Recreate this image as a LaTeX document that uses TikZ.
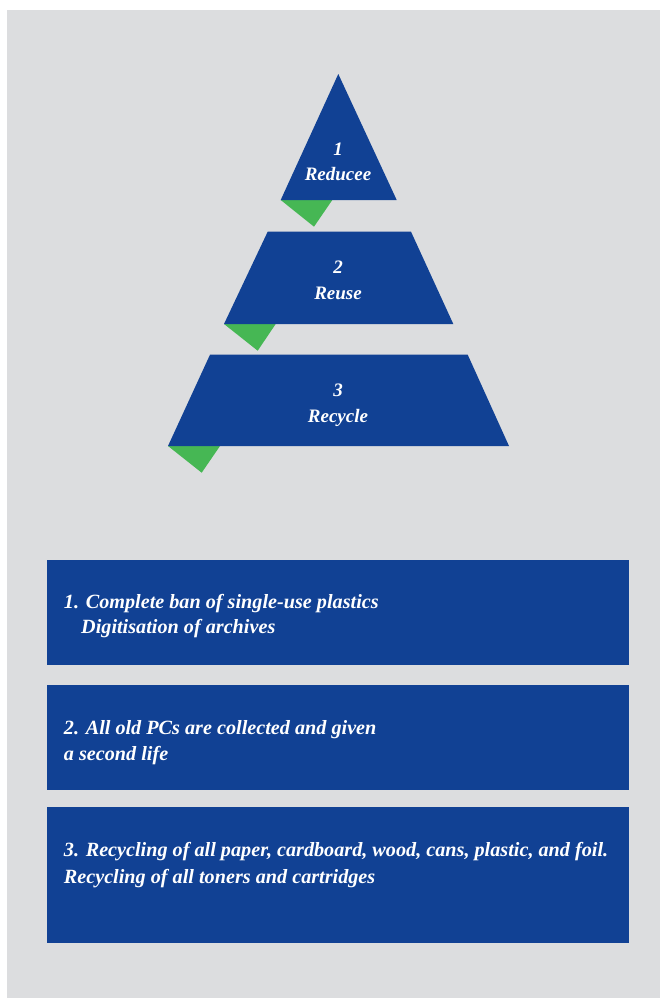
\documentclass[tikz,border=0pt]{standalone}
\usepackage{fontspec}
\setmainfont{Liberation Serif}
\definecolor{bgray}{HTML}{DCDDDF}
\definecolor{pblue}{HTML}{114194}
\definecolor{pgreen}{HTML}{46B754}
\begin{document}
\begin{tikzpicture}[x=1pt,y=-1pt,
  lvl/.style={fill=pblue},
  tab/.style={fill=pgreen},
  lab/.style={text=white,font=\fontsize{19}{22}\selectfont\bfseries\itshape,inner sep=0pt,anchor=base},
  txt/.style={text=white,font=\fontsize{20.2}{24}\selectfont\bfseries\itshape,inner sep=0pt,anchor=base west}]
\useasboundingbox (0,0) rectangle (660,998);
\fill[white] (0,0) rectangle (660,998);
\fill[bgray] (7,10) rectangle (660,998);
% pyramid
\fill[tab] (280.7,200) -- (332.3,200) -- (314,226.7) -- cycle;
\fill[lvl] (338.3,74) -- (396.7,200) -- (280.7,200) -- cycle;
\fill[tab] (224,324) -- (275.7,324) -- (257.7,350.7) -- cycle;
\fill[lvl] (267.7,231.7) -- (411,231.7) -- (453.3,324) -- (224,324) -- cycle;
\fill[tab] (168,446) -- (220,446) -- (201.7,472.7) -- cycle;
\fill[lvl] (210,354.7) -- (467.7,354.7) -- (509,446) -- (168,446) -- cycle;
\node[lab] (n1) at (338,155) {1};
\node[lab] (l1) at (338,180) {Reducee};
\node[lab] (n2) at (338,273.3) {2};
\node[lab] (l2) at (338,299) {Reuse};
\node[lab] (n3) at (338,396.7) {3};
\node[lab] (l3) at (338,422.7) {Recycle};
% boxes
\fill[lvl] (46.5,560) rectangle (628.6,664.7);
\fill[lvl] (46.5,685) rectangle (628.6,789.5);
\fill[lvl] (46.5,807) rectangle (628.6,942.7);
\node[txt] (b1a) at (63.7,608.3) {1. Complete ban of single-use plastics};
\node[txt] (b1b) at (81,633.3) {Digitisation of archives};
\node[txt] (b2a) at (63.7,734) {2. All old PCs are collected and given};
\node[txt] (b2b) at (63.7,760.7) {a second life};
\node[txt] (b3a) at (63.7,856.7) {3. Recycling of all paper, cardboard, wood, cans, plastic, and foil.};
\node[txt] (b3b) at (63.7,883.3) {Recycling of all toners and cartridges};
\end{tikzpicture}
\end{document}
